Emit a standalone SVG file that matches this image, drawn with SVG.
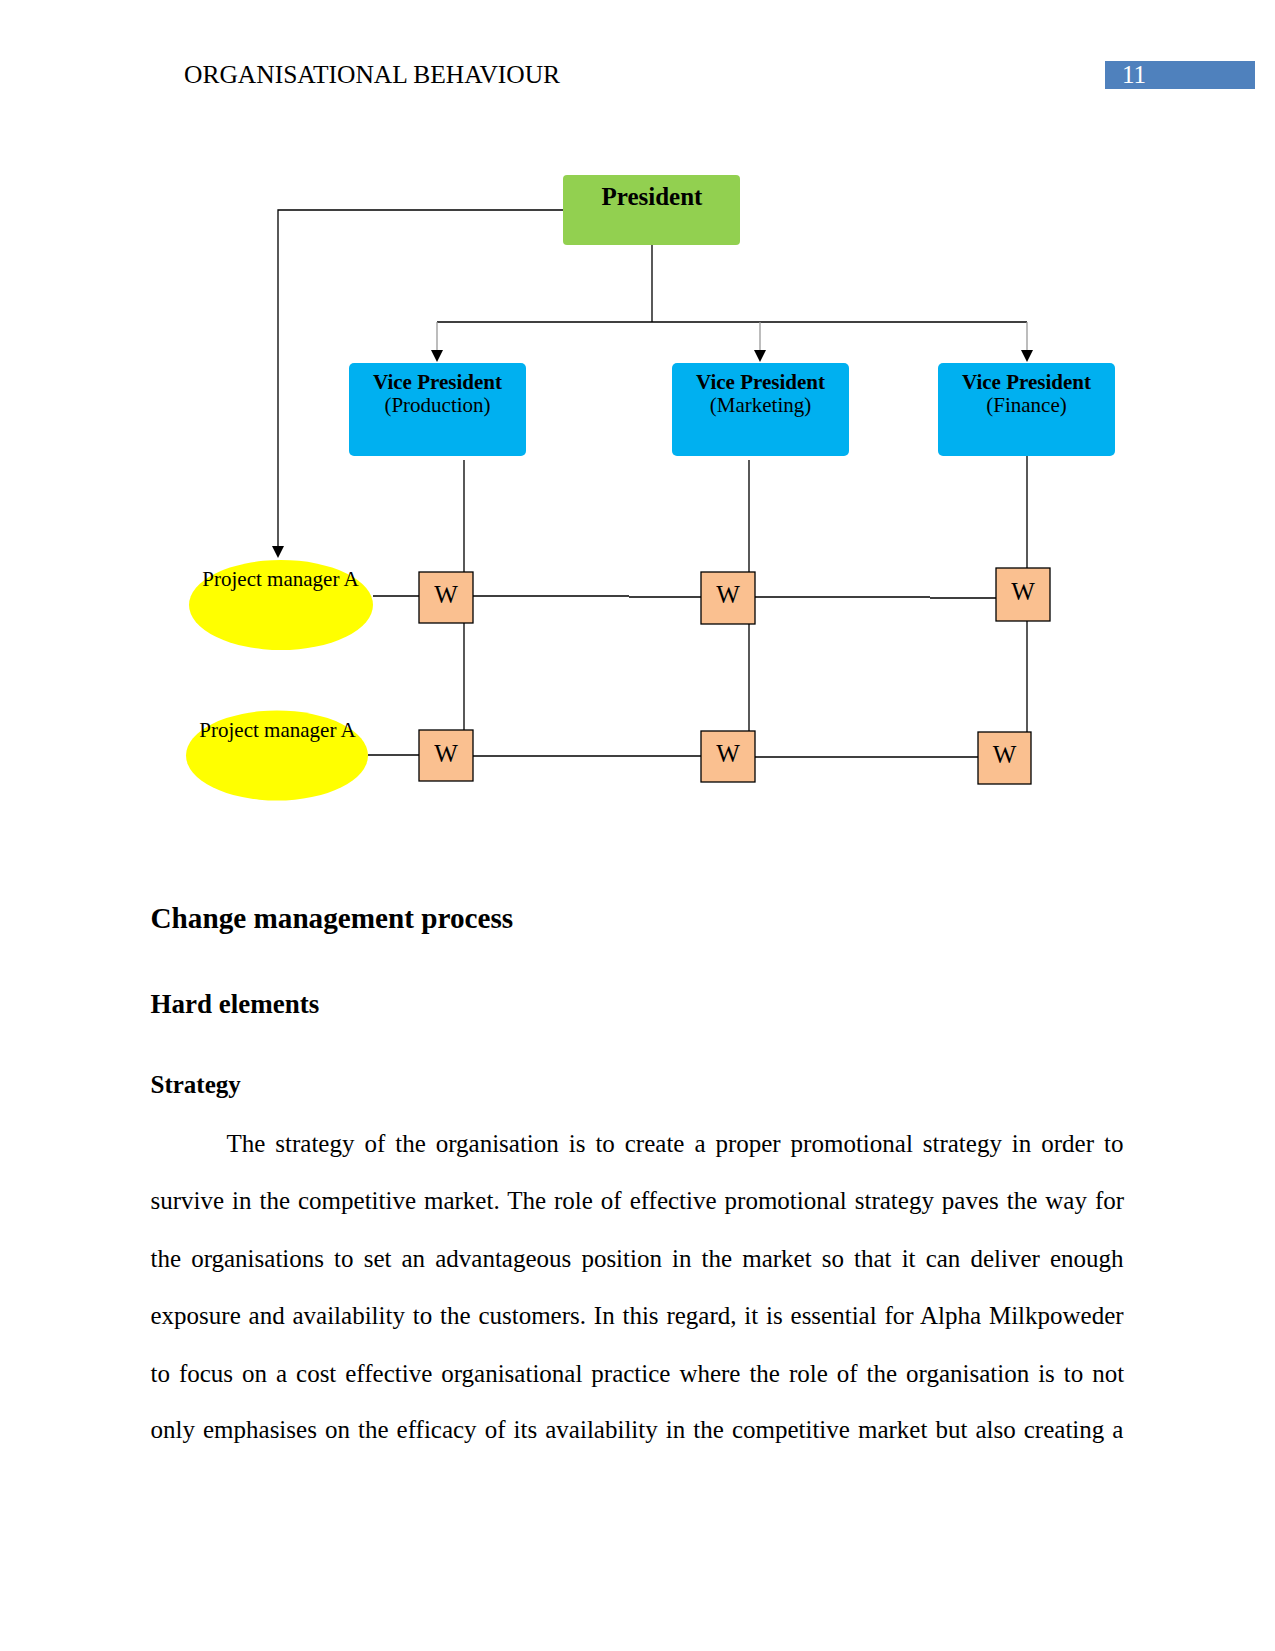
<svg xmlns="http://www.w3.org/2000/svg" width="1275" height="1651" viewBox="0 0 1275 1651">
<defs>
<style>
.serif{font-family:"Liberation Serif","Times New Roman",serif;fill:#000}
.b{font-weight:bold}
.vp{fill:#00B0F0}
.w{fill:#FAC090;stroke:#000;stroke-width:1.3}
.pm{fill:#FFFF00}
.ln{fill:none;stroke:#000;stroke-width:1.3}
.gl{fill:none;stroke:#999;stroke-width:1.3}
.body{font-size:25px}
</style>
</defs>
<rect width="1275" height="1651" fill="#fff"/>

<g id="header">
<text class="serif" x="184" y="83" font-size="25.5">ORGANISATIONAL BEHAVIOUR</text>
<rect x="1105" y="61" width="150" height="28" fill="#4F81BD"/>
<text x="1122" y="83" font-size="25" font-family="Liberation Serif, serif" fill="#fff">11</text>
</g>

<g id="connectors">
<path class="ln" d="M563,210 H278 V546"/>
<path d="M278,558 l-6,-12 h12 z" fill="#000"/>
<path class="ln" d="M652,245 V322"/>
<path class="ln" d="M437,322 H1027"/>
<path class="gl" d="M437,322 V350"/>
<path d="M437,362 l-6,-12 h12 z" fill="#000"/>
<path class="gl" d="M760,322 V350"/>
<path d="M760,362 l-6,-12 h12 z" fill="#000"/>
<path class="gl" d="M1027,322 V350"/>
<path d="M1027,362 l-6,-12 h12 z" fill="#000"/>
<path class="ln" d="M464,460 V572 M464,623 V730"/>
<path class="ln" d="M749,460 V572 M749,624 V731"/>
<path class="ln" d="M1027,456 V568 M1027,621 V732"/>
<path class="ln" d="M373,596 H419"/>
<path class="ln" d="M473,596 H629 M629,597 H701"/>
<path class="ln" d="M755,597 H930 M930,598 H996"/>
<path class="ln" d="M368,755 H419"/>
<path class="ln" d="M473,756 H701"/>
<path class="ln" d="M755,757 H978"/>
</g>

<g id="president">
<rect x="563" y="175" width="177" height="70" rx="4" fill="#92D050"/>
<text class="serif b" x="652" y="205" font-size="25" text-anchor="middle">President</text>
</g>

<g id="vp-production">
<rect class="vp" x="349" y="363" width="177" height="93" rx="5"/>
<text class="serif b" x="437.5" y="389" font-size="21" text-anchor="middle">Vice President</text>
<text class="serif" x="437.5" y="412" font-size="21" text-anchor="middle">(Production)</text>
</g>
<g id="vp-marketing">
<rect class="vp" x="672" y="363" width="177" height="93" rx="5"/>
<text class="serif b" x="760.5" y="389" font-size="21" text-anchor="middle">Vice President</text>
<text class="serif" x="760.5" y="412" font-size="21" text-anchor="middle">(Marketing)</text>
</g>
<g id="vp-finance">
<rect class="vp" x="938" y="363" width="177" height="93" rx="5"/>
<text class="serif b" x="1026.5" y="389" font-size="21" text-anchor="middle">Vice President</text>
<text class="serif" x="1026.5" y="412" font-size="21" text-anchor="middle">(Finance)</text>
</g>

<g id="pm-1">
<ellipse class="pm" cx="281" cy="605" rx="92" ry="45"/>
<text class="serif" x="280.5" y="586" font-size="21" text-anchor="middle">Project manager A</text>
</g>
<g id="pm-2">
<ellipse class="pm" cx="277" cy="755.5" rx="91" ry="45"/>
<text class="serif" x="277.5" y="737" font-size="21" text-anchor="middle">Project manager A</text>
</g>

<g id="w-r1c1">
<rect class="w" x="419" y="572" width="54" height="51"/>
<text class="serif" x="446" y="603" font-size="25" text-anchor="middle">W</text>
</g>
<g id="w-r1c2">
<rect class="w" x="701" y="572" width="54" height="52"/>
<text class="serif" x="728" y="603" font-size="25" text-anchor="middle">W</text>
</g>
<g id="w-r1c3">
<rect class="w" x="996" y="568" width="54" height="53"/>
<text class="serif" x="1023" y="600" font-size="25" text-anchor="middle">W</text>
</g>
<g id="w-r2c1">
<rect class="w" x="419" y="730" width="54" height="51"/>
<text class="serif" x="446" y="762" font-size="25" text-anchor="middle">W</text>
</g>
<g id="w-r2c2">
<rect class="w" x="701" y="731" width="54" height="51"/>
<text class="serif" x="728" y="762" font-size="25" text-anchor="middle">W</text>
</g>
<g id="w-r2c3">
<rect class="w" x="978" y="732" width="53" height="52"/>
<text class="serif" x="1004.5" y="763" font-size="25" text-anchor="middle">W</text>
</g>

<g id="text-body">
<text class="serif b" x="150.5" y="928" font-size="29.2">Change management process</text>
<text class="serif b" x="150.5" y="1013" font-size="27">Hard elements</text>
<text class="serif b" x="150.5" y="1093" font-size="25">Strategy</text>
<text class="serif body" x="226.5" y="1152" word-spacing="3.7">The strategy of the organisation is to create a proper promotional strategy in order to</text>
<text class="serif body" x="150.5" y="1209" word-spacing="1.72">survive in the competitive market. The role of effective promotional strategy paves the way for</text>
<text class="serif body" x="150.5" y="1267" word-spacing="3.85">the organisations to set an advantageous position in the market so that it can deliver enough</text>
<text class="serif body" x="150.5" y="1324" word-spacing="1.57">exposure and availability to the customers. In this regard, it is essential for Alpha Milkpoweder</text>
<text class="serif body" x="150.5" y="1382" word-spacing="2.71">to focus on a cost effective organisational practice where the role of the organisation is to not</text>
<text class="serif body" x="150.5" y="1438" word-spacing="1.81">only emphasises on the efficacy of its availability in the competitive market but also creating a</text>
</g>
</svg>
